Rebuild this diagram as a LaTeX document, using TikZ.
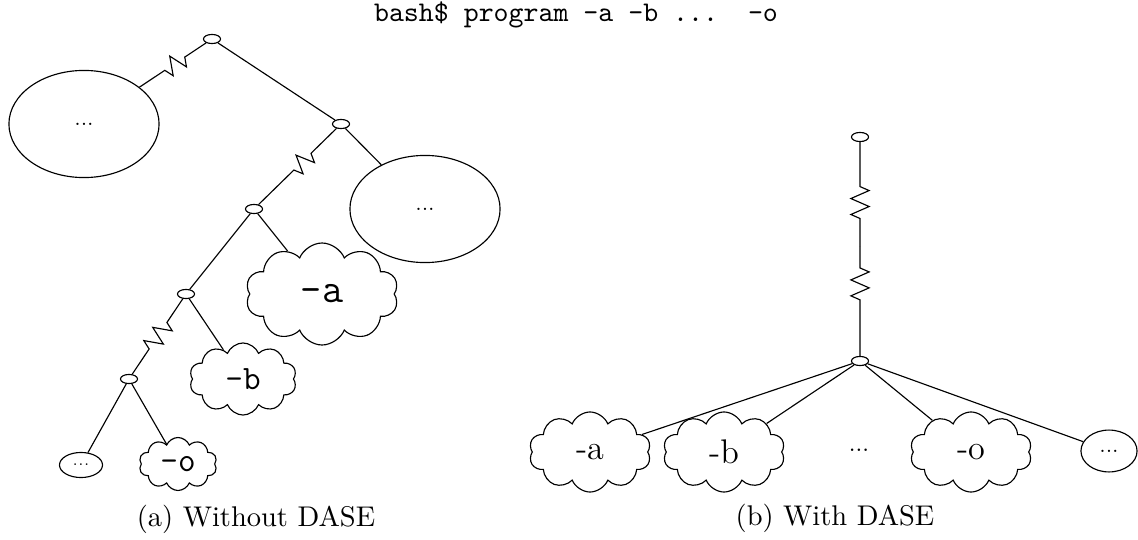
\documentclass[tikz,border=0pt]{standalone}
\usetikzlibrary{shapes.geometric,shapes.symbols,decorations.pathmorphing}
\tikzset{
  joint/.style={draw, ellipse, inner sep=0pt, minimum width=6pt, minimum height=3.2pt},
  blob/.style={draw, ellipse, inner sep=0pt},
  puff/.style={draw, cloud, cloud puffs=10, cloud puff arc=135, cloud ignores aspect, inner sep=0pt},
  bpuff/.style={puff, minimum width=42.8pt, minimum height=28.1pt, font=\large},
  spring/.style 2 args={decorate, decoration={zigzag, segment length=5.6pt, amplitude=3.2pt, pre length=#1, post length=#2}}
}
\begin{document}
\begin{tikzpicture}[x=0.351pt, y=-0.351pt]
  \useasboundingbox (0,0) rectangle (1138,539);
  \node (cmd) at (576,15) {\texttt{bash\$ program -a -b ...\ \ -o}};

  \node[joint] (r) at (212,39) {};
  \node[blob, minimum width=52.7pt, minimum height=37.6pt, font=\scriptsize] (e1) at (84,124) {...};
  \node[joint] (j2) at (341,124) {};
  \node[blob, minimum width=52.7pt, minimum height=37.6pt, font=\scriptsize] (e2) at (425,209) {...};
  \node[joint] (j3) at (254,209) {};
  \node[puff, minimum width=53.7pt, minimum height=35.8pt, font=\ttfamily\Large] (ca) at (322,294) {-a};
  \node[joint] (j4) at (186,294) {};
  \node[puff, minimum width=37.6pt, minimum height=25.3pt, font=\ttfamily\large] (cb) at (243,379) {-b};
  \node[joint] (j5) at (129,379) {};
  \node[blob, minimum width=15.1pt, minimum height=8.8pt, font=\tiny] (e3) at (81,465) {...};
  \node[puff, minimum width=27.4pt, minimum height=18.6pt, font=\ttfamily\large] (co) at (178,464) {-o};
  \node (capa) at (256,519) {(a) Without DASE};

  \draw[spring={9pt}{9pt}] (r) -- (e1);
  \draw (r) -- (j2);
  \draw (j2) -- (e2);
  \draw[spring={12.5pt}{15pt}] (j2) -- (j3);
  \draw (j3) -- (ca);
  \draw (j3) -- (j4);
  \draw (j4) -- (cb);
  \draw[spring={10pt}{10pt}] (j4) -- (j5);
  \draw (j5) -- (e3);
  \draw (j5) -- (co);

  \node[joint] (t) at (860,137) {};
  \coordinate (m) at (860,246);
  \node[joint] (h) at (860,361) {};
  \node[bpuff] (pa) at (590,452) {-a};
  \node[bpuff] (pb) at (724,452) {-b};
  \node[font=\footnotesize] (gap) at (859,450) {...};
  \node[bpuff] (po) at (971,452) {-o};
  \node[blob, minimum width=19.7pt, minimum height=14.7pt, font=\scriptsize] (e4) at (1109,451) {...};
  \node (capb) at (835,518) {(b) With DASE};

  \draw[spring={15.6pt}{7.4pt}] (t) -- (m);
  \draw[spring={7.7pt}{18.4pt}] (m) -- (h);
  \draw (h) -- (pa);
  \draw (h) -- (pb);
  \draw (h) -- (po);
  \draw (h) -- (e4);
\end{tikzpicture}
\end{document}
